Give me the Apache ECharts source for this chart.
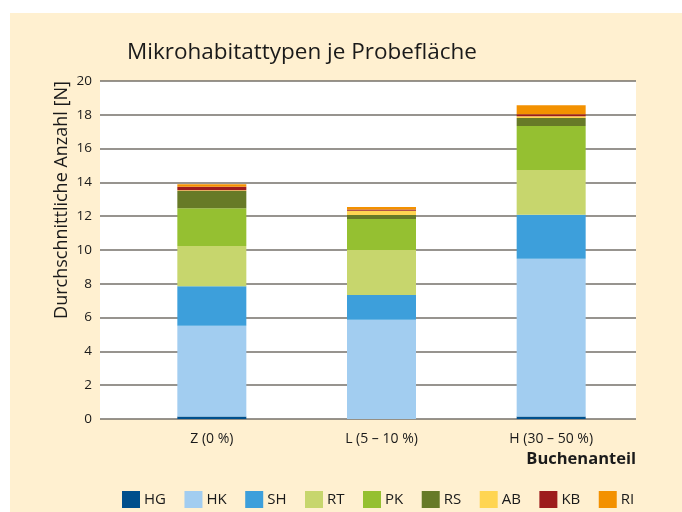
<!DOCTYPE html>
<html>
<head>
<meta charset="utf-8">
<script src="https://cdn.jsdelivr.net/npm/echarts@6/dist/echarts.min.js"></script>
<style>
  html, body { margin: 0; padding: 0; background: #fff; }
  #chart { width: 682px; height: 512px; }
</style>
</head>
<body>
<div id="chart"></div>
<script>
// Kategorien (Buchenanteil)
const categories = ['Z (0 %)', 'L (5 – 10 %)', 'H (30 – 50 %)'];
const yTicks = [0, 2, 4, 6, 8, 10, 12, 14, 16, 18, 20];

// Mikrohabitattypen, Reihenfolge von unten nach oben
const seriesNames = ['HG', 'HK', 'SH', 'RT', 'PK', 'RS', 'AB', 'KB', 'RI'];
const seriesColors = ['#004f8c', '#a2cdf0', '#3d9fdb', '#c7d66d', '#95c031', '#677a27', '#ffd552', '#9d1c1c', '#f39100'];

const hg = [0.15, 0, 0.15];
const hk = [5.37, 5.88, 9.33];
const sh = [2.33, 1.46, 2.6];
const rt = [2.39, 2.66, 2.66];
const pk = [2.23, 1.83, 2.6];
const rs = [1.02, 0.24, 0.47];
const ab = [0.05, 0.25, 0.1];
const kb = [0.2, 0.08, 0.12];
const ri = [0.15, 0.15, 0.53];

const seriesData = [hg, hk, sh, rt, pk, rs, ab, kb, ri];

const FONT = 'Open Sans';
const cream = '#fff0d0';
const ink = '#1a1a1a';

let myChart = echarts.init(document.getElementById('chart'));

let option = {
  backgroundColor: '#ffffff',
  animation: false,
  textStyle: { fontFamily: FONT },
  title: {
    text: 'Mikrohabitattypen je Probefläche',
    left: 122,
    top: 36,
    textStyle: { fontFamily: FONT, fontSize: 22.5, fontWeight: 'normal', color: ink }
  },
  graphic: [
    {
      type: 'rect',
      z: -10,
      silent: true,
      shape: { x: 10, y: 13, width: 672, height: 499 },
      style: { fill: cream }
    },
    {
      type: 'text',
      right: 46,
      top: 451,
      style: { text: 'Buchenanteil', fontFamily: FONT, fontSize: 16.5, fontWeight: 'bold', fill: ink }
    },
    {
      type: 'text',
      x: 62,
      y: 200,
      rotation: Math.PI / 2,
      style: {
        text: 'Durchschnittliche Anzahl [N]',
        fontFamily: FONT, fontSize: 18, fontWeight: 'normal', fill: ink,
        align: 'center', verticalAlign: 'middle'
      }
    }
  ],
  legend: {
    left: 117,
    top: 486,
    icon: 'rect',
    itemWidth: 18,
    itemHeight: 17,
    itemGap: 18.5,
    data: seriesNames,
    textStyle: { fontFamily: FONT, fontSize: 15, color: ink, padding: [0, 0, 0, -1] }
  },
  grid: [
    // Hintergrund + Gitterlinien
    { left: 100, right: 46, top: 81, bottom: 93, show: true, backgroundColor: '#ffffff', borderWidth: 0 },
    // Balken
    { left: 127, right: 46, top: 81, bottom: 93 }
  ],
  xAxis: [
    { type: 'category', gridIndex: 0, data: categories, show: false },
    {
      type: 'category',
      gridIndex: 1,
      data: categories,
      axisLine: { show: false },
      axisTick: { show: false },
      axisLabel: { fontFamily: FONT, fontSize: 14, color: ink, margin: 13 }
    }
  ],
  yAxis: [
    {
      type: 'value',
      gridIndex: 0,
      min: yTicks[0],
      max: yTicks[yTicks.length - 1],
      interval: 2,
      axisLine: { show: false },
      axisTick: { show: false },
      axisLabel: { fontFamily: FONT, fontSize: 13.5, color: ink, margin: 8 },
      splitLine: { lineStyle: { color: '#74706a', width: 1.5 } }
    },
    {
      type: 'value',
      gridIndex: 1,
      min: yTicks[0],
      max: yTicks[yTicks.length - 1],
      interval: 2,
      show: false,
      splitLine: { show: false }
    }
  ],
  series: seriesNames.map((name, i) => ({
    name: name,
    type: 'bar',
    stack: 'total',
    xAxisIndex: 1,
    yAxisIndex: 1,
    barWidth: 69,
    z: 3,
    itemStyle: { color: seriesColors[i] },
    data: seriesData[i]
  }))
};

myChart.setOption(option);
</script>
</body>
</html>
